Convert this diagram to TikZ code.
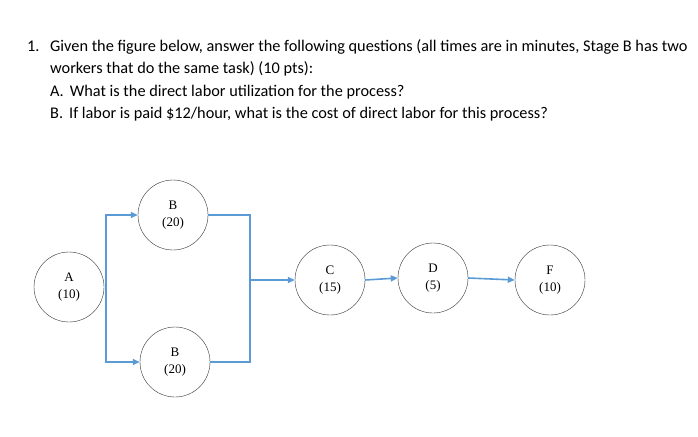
\documentclass[tikz,border=0pt]{standalone}
\usepackage{fontspec}
\setmainfont{Carlito}
\newfontfamily\serifc{Liberation Serif}
\usetikzlibrary{arrows.meta}
\begin{document}
\begin{tikzpicture}[x=1pt,y=-1pt,
  txt/.style={anchor=base west,inner sep=0pt,font=\fontsize{16.3}{19}\selectfont},
  stage/.style={circle,draw=black!80,thin,minimum size=70pt,inner sep=0pt,align=center,font=\serifc\fontsize{13}{17}\selectfont},
  flow/.style={draw={rgb,255:red,91;green,155;blue,213},line width=1.6pt},
  arr/.style={flow,-{Triangle[length=7pt,width=6pt]}}]
\useasboundingbox (0,0) rectangle (698,436);
\node[txt] (n1) at (27,52) {1.};
\node[txt] (l1) at (50,52) {Given the figure below, answer the following questions (all times are in minutes, Stage B has two};
\node[txt] (l2) at (50,74) {workers that do the same task) (10 pts):};
\node[txt] (l3) at (50,96) {A.\hspace{6pt}What is the direct labor utilization for the process?};
\node[txt] (l4) at (50,118) {B.\hspace{6pt}If labor is paid \$12/hour, what is the cost of direct labor for this process?};
\node[stage] (A) at (69,287) {A\\(10)};
\node[stage] (B1) at (173,215) {B\\(20)};
\node[stage] (B2) at (175,362) {B\\(20)};
\node[stage] (C) at (330,280) {C\\(15)};
\node[stage] (D) at (433,278) {D\\(5)};
\node[stage] (F) at (550,280) {F\\(10)};
\coordinate (sp) at (106,287);
\coordinate (mg) at (250,280);
\draw[arr] (sp) |- (B1.west);
\draw[arr] (sp) |- (B2.west);
\draw[flow] (B1.east) -| (mg);
\draw[flow] (B2.east) -| (mg);
\draw[arr] (mg) -- (C.west);
\draw[arr] (C.east) -- (D.west);
\draw[arr] (D.east) -- (F.west);
\end{tikzpicture}
\end{document}
